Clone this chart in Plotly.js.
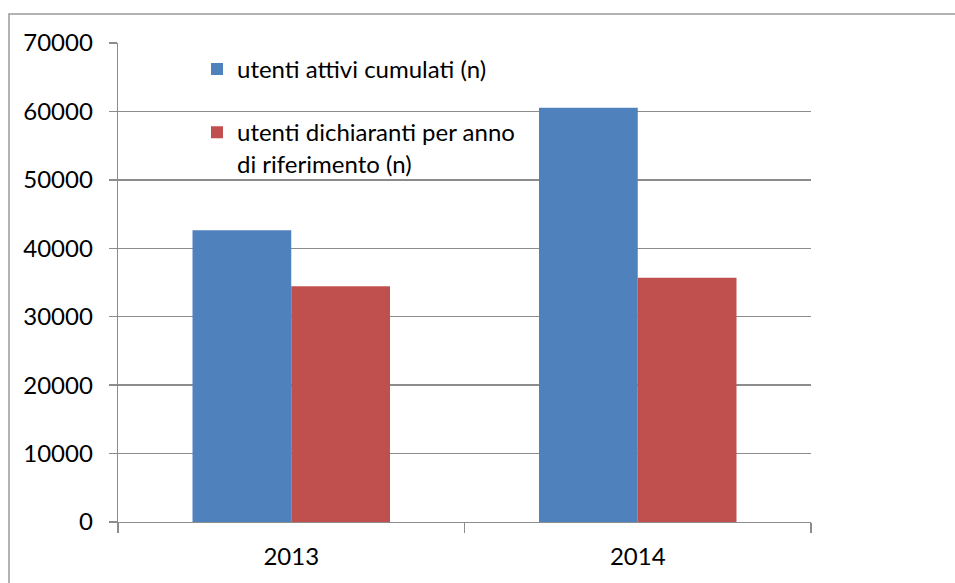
<!DOCTYPE html>
<html>
<head>
<meta charset="utf-8">
<script src="https://cdn.plot.ly/plotly-3.0.1.min.js"></script>
<style>html,body{margin:0;padding:0;background:#fff;}#chart{width:955px;height:583px;}</style>
</head>
<body>
<div id="chart"></div>
<script>
const years = ["2013", "2014"];
const seriesNames = ["utenti attivi cumulati (n)", "utenti dichiaranti per anno<br>di riferimento (n)"];
const utentiAttivi = [42650, 60550];
const utentiDichiaranti = [34450, 35700];
const yTickValues = [0, 10000, 20000, 30000, 40000, 50000, 60000, 70000];

const FONT = "Lato, 'Open Sans', sans-serif";

const traces = [
  {type: "bar", x: years, y: utentiAttivi, name: seriesNames[0], legendgroup: "a",
   marker: {color: "#4F81BD", line: {width: 0}}},
  {type: "bar", x: years, y: utentiDichiaranti, name: seriesNames[1], legendgroup: "b",
   marker: {color: "#C0504D", line: {width: 0}}}
];

const L = 118, R = 811, T = 43, B = 522;
const W = R - L, H = B - T;

const layout = {
  width: 955, height: 583,
  margin: {l: L, r: 955 - R, t: T, b: 583 - B, pad: 0},
  paper_bgcolor: "#fff", plot_bgcolor: "#fff",
  barmode: "group", bargap: 0.43, bargroupgap: 0,
  font: {family: FONT, color: "#000", size: 22},
  showlegend: true,
  legend: {x: 0.114, y: 0.992, xanchor: "left", yanchor: "top", bgcolor: "rgba(0,0,0,0)",
           font: {family: FONT, size: 24, color: "#000"},
           tracegroupgap: 29, traceorder: "grouped", valign: "top", itemwidth: 30},
  xaxis: {type: "category", showgrid: false, showline: true, linecolor: "#8c8c8c", linewidth: 1.3,
          ticks: "outside", tickson: "boundaries", ticklen: 10, tickcolor: "#8c8c8c", tickwidth: 1.3,
          tickfont: {family: FONT, size: 24, color: "#000"}, ticklabelstandoff: 13, zeroline: false},
  yaxis: {range: [0, 70000], tickvals: yTickValues, ticktext: yTickValues.map(String),
          showgrid: true, gridcolor: "#8c8c8c", gridwidth: 1.3,
          showline: true, linecolor: "#8c8c8c", linewidth: 1.3,
          ticks: "outside", ticklen: 8, tickcolor: "#8c8c8c", tickwidth: 1.3,
          tickfont: {family: FONT, size: 24, color: "#000"}, ticklabelstandoff: 11, zeroline: false},
  shapes: [
    {type: "rect", xref: "paper", yref: "paper", layer: "above",
     x0: (9 - L) / W, x1: (965 - L) / W, y0: (B - 600) / H, y1: (B - 14) / H,
     line: {color: "#9a9a9a", width: 1.5}, fillcolor: "rgba(0,0,0,0)"}
  ]
};

Plotly.newPlot("chart", traces, layout, {staticPlot: true, displayModeBar: false});
</script>
</body>
</html>
